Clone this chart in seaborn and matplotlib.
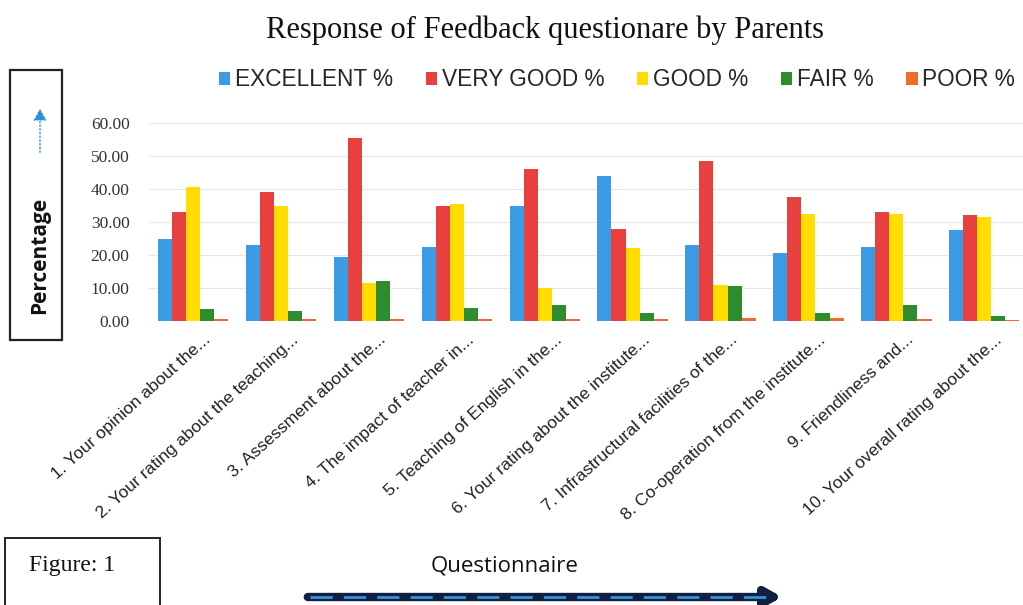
import matplotlib
matplotlib.use("Agg")
import matplotlib.pyplot as plt
import seaborn as sns
import pandas as pd
from matplotlib.patches import Rectangle, FancyArrowPatch
import matplotlib.transforms as mtransforms

questions = [
    "1. Your opinion about the...",
    "2. Your rating about the teaching...",
    "3. Assessment about the...",
    "4. The impact of teacher in...",
    "5. Teaching of English in the...",
    "6. Your rating about the institute...",
    "7. Infrastructural facilities of the...",
    "8. Co-operation from the institute...",
    "9. Friendliness and...",
    "10. Your overall rating about the...",
]
series = ["EXCELLENT %", "VERY GOOD %", "GOOD %", "FAIR %", "POOR %"]
excellent = [25.0, 23.0, 19.5, 22.5, 35.0, 44.0, 23.0, 20.5, 22.5, 27.5]
very_good = [33.0, 39.0, 55.5, 35.0, 46.0, 28.0, 48.5, 37.5, 33.0, 32.0]
good      = [40.5, 35.0, 11.5, 35.5, 10.0, 22.0, 11.0, 32.5, 32.5, 31.5]
fair      = [3.5, 3.0, 12.0, 4.0, 5.0, 2.5, 10.5, 2.5, 5.0, 1.5]
poor      = [0.5, 0.5, 0.5, 0.5, 0.5, 0.5, 1.0, 0.8, 0.5, 0.3]
colors = ["#3D9BE6", "#E8403F", "#FFDD00", "#2E8B2E", "#F26B2A"]
yticks = [0, 10, 20, 30, 40, 50, 60]

rows = []
for s, vals in zip(series, [excellent, very_good, good, fair, poor]):
    for q, v in zip(questions, vals):
        rows.append({"Question": q, "Series": s, "Value": v})
df = pd.DataFrame(rows)

sns.set_theme(style="white")
plt.rcParams["font.family"] = ["Liberation Sans", "DejaVu Sans"]

fig = plt.figure(figsize=(10.23, 6.05), dpi=100)
ax = fig.add_axes([149/1023, 1 - 321/605, 874/1023, (321 - 123)/605])
sns.barplot(data=df, x="Question", y="Value", hue="Series", order=questions,
            hue_order=series, palette=colors, width=0.8, ax=ax,
            saturation=1, legend=True, errorbar=None, linewidth=0)
ax.set_xlim(-0.5, 9.44)
ax.set_ylim(0, 60)
ax.set_yticks(yticks)
ax.set_yticklabels([f"{v:.2f}" for v in yticks], family="Liberation Serif",
                   fontsize=12.5, color="#333333")
ax.yaxis.grid(True, color="#e6e6e6", lw=0.8)
ax.set_axisbelow(True)
for sp in ax.spines.values():
    sp.set_visible(False)
ax.tick_params(axis="y", length=0, pad=14)
ax.tick_params(axis="x", length=0, pad=8)
ax.set_xlabel("")
ax.set_ylabel("")
ax.set_xticks(range(len(questions)))
ax.set_xticklabels(questions, rotation=42, ha="right", rotation_mode="anchor",
                   fontsize=12.5, color="#222222")
offset = mtransforms.ScaledTranslation(10/100, 0, fig.dpi_scale_trans)
for lab in ax.get_xticklabels():
    lab.set_transform(lab.get_transform() + offset)

handles, labels = ax.get_legend_handles_labels()
ax.legend_.remove()
fig.legend(handles, labels, loc="center", bbox_to_anchor=(617/1023, 1 - 80/605),
           ncol=5, frameon=False, fontsize=16.3, handlelength=0.5,
           handleheight=0.5, handletextpad=0.2, columnspacing=1.45)

fig.text(545/1023, 1 - 30/605, "Response of Feedback questionare by Parents",
         ha="center", va="center", family="Liberation Serif", fontsize=22,
         color="#111111")

# Percentage box
fig.patches.append(Rectangle((10/1023, 1 - 340/605), 52/1023, 270/605,
                             transform=fig.transFigure, fill=False,
                             ec="#222222", lw=1.6))
fig.text(40/1023, 1 - 255/605, "Percentage", rotation=90, ha="center",
         va="center", fontsize=15, fontweight="bold", family="Open Sans",
         color="#111111")
fig.patches.append(FancyArrowPatch((40/1023, 1 - 155/605), (40/1023, 1 - 106/605),
                                   transform=fig.transFigure,
                                   arrowstyle="-|>,head_length=7,head_width=4",
                                   color="#2A8FE0", lw=1, linestyle=":"))

# Figure box
fig.patches.append(Rectangle((5/1023, -0.05), 155/1023, (0.05 + 1 - 538/605),
                             transform=fig.transFigure, fill=False,
                             ec="#222222", lw=1.4))
fig.text(72/1023, 1 - 566/605, "Figure: 1", ha="center", va="center",
         family="Liberation Serif", fontsize=17, color="#111111")

fig.text(505/1023, 1 - 566/605, "Questionnaire", ha="center", va="center",
         family="Open Sans", fontsize=16, color="#111111")
fig.patches.append(FancyArrowPatch((305/1023, 1 - 597/605), (785/1023, 1 - 597/605),
                                   transform=fig.transFigure,
                                   arrowstyle="-|>,head_length=9,head_width=5",
                                   color="#102040", lw=6))
fig.lines.append(plt.Line2D([310/1023, 770/1023], [1 - 597/605, 1 - 597/605],
                            transform=fig.transFigure, color="#3A8FD8",
                            lw=2, linestyle=(0, (8, 4))))

fig.savefig("out.png", dpi=100, facecolor="white")
